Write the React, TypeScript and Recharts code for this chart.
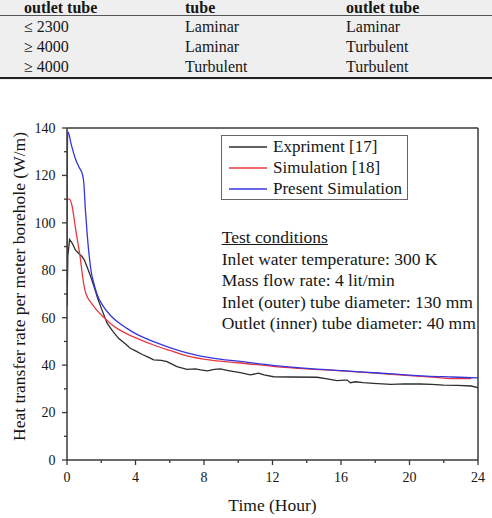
import { LineChart, Line, XAxis, YAxis, Legend, ReferenceLine } from "recharts";

// table above the chart
const TABLE_HEAD = ["outlet tube", "tube", "outlet tube"];
const TABLE_ROWS = [
  ["≤ 2300", "Laminar", "Laminar"],
  ["≥ 4000", "Laminar", "Turbulent"],
  ["≥ 4000", "Turbulent", "Turbulent"],
];

// axis ticks (majors labelled, minors unlabelled)
const X_TICKS = [0, 2, 4, 6, 8, 10, 12, 14, 16, 18, 20, 22, 24];
const Y_TICKS = [0, 10, 20, 30, 40, 50, 60, 70, 80, 90, 100, 110, 120, 130, 140];

// Expriment [17]
const EXP_TIME = [
  0, 0.05, 0.15, 0.3, 0.49, 0.7, 0.88, 1.0, 1.17, 1.35, 1.55, 1.8, 2.04, 2.34, 2.7, 3.01, 3.4, 3.7, 4.0,
  4.4, 4.8, 5.06, 5.5, 5.84, 6.42, 7.0, 7.5, 7.8, 8.2, 8.6, 8.95, 9.5, 10.12, 10.7, 11.19, 11.5, 12.07,
  13.0, 14.6, 15.2, 15.77, 16.2, 16.36, 16.55, 16.84, 17.3, 17.9, 18.9, 19.7, 20.6, 21.3, 22.0, 22.8, 23.6, 24,
];
const EXP_HEAT = [
  65, 86, 93, 91.5, 88.6, 87, 85.8, 84.5, 81.5, 78, 73.8, 68, 63.3, 57.7, 54, 51.3, 49, 47.1, 46,
  44.5, 43.2, 42.2, 42, 41.5, 39.4, 38.2, 38.4, 38, 37.6, 38.2, 38.4, 37.6, 36.8, 35.9, 36.6, 35.9, 35.1,
  35.0, 34.9, 34.2, 33.5, 33.7, 33.7, 32.6, 33.0, 32.6, 32.3, 31.9, 32.1, 32.05, 31.9, 31.6, 31.5, 31.2, 30.5,
];

// Simulation [18]
const SIM_TIME = [
  0, 0.15, 0.3, 0.49, 0.6, 0.78, 0.9, 1.05, 1.2, 1.36, 1.7, 2.14, 2.5, 2.92, 3.5, 4.09, 5.06, 6.0, 7.0,
  8.5, 10.1, 12.0, 14.0, 16.0, 18.0, 20.0, 21.5, 22.5, 23.6,
];
const SIM_HEAT = [
  110, 110, 107, 98, 93, 85, 78, 71.5, 68.5, 66.8, 63.5, 60.2, 57.8, 55.5, 53.2, 51.3, 48.5, 46.2, 43.9,
  42.0, 40.9, 39.5, 38.4, 37.6, 36.6, 35.6, 34.8, 34.3, 34.3,
];

// Present Simulation
const PRES_TIME = [
  0, 0.02, 0.05, 0.25, 0.49, 0.7, 0.9, 0.98, 1.07, 1.17, 1.27, 1.4, 1.55, 1.75, 2.1, 2.6, 3.0, 3.5, 4.0,
  4.6, 5.1, 6.0, 7.0, 8.5, 10.1, 12.0, 14.0, 16.0, 17.1, 19.0, 21.0, 22.5, 24,
];
const PRES_HEAT = [
  65, 130, 138.5, 133, 127, 123.5, 120.5, 117, 106, 96, 88, 80, 75, 70, 65, 60.5, 58, 55.5, 53.3,
  51.3, 49.8, 47.4, 45.2, 43.0, 41.6, 39.9, 38.6, 37.7, 37.2, 36.3, 35.4, 35.0, 34.6,
];

const SERIF = "'Liberation Serif', 'Times New Roman', serif";
const AXIS = "#3a3a3a";
const INK = "#161616";

const toPoints = (ts: number[], vs: number[]) => ts.map((t, i) => ({ t, v: vs[i] }));

const SERIES = [
  { name: "Expriment [17]", color: "#2e2e2e", curve: "linear", data: toPoints(EXP_TIME, EXP_HEAT) },
  { name: "Simulation [18]", color: "#e8383f", curve: "monotone", data: toPoints(SIM_TIME, SIM_HEAT) },
  { name: "Present Simulation", color: "#3535e0", curve: "monotone", data: toPoints(PRES_TIME, PRES_HEAT) },
];

const CONDITIONS = [
  "Inlet water temperature: 300 K",
  "Mass flow rate: 4 lit/min",
  "Inlet (outer) tube diameter: 130 mm",
  "Outlet (inner) tube diameter: 40 mm",
];

function XTick(props: any) {
  const { x, y, payload } = props;
  const major = payload.value % 4 === 0;
  return (
    <g>
      <line x1={x} x2={x} y1={y} y2={y + (major ? 5 : 3)} stroke={AXIS} strokeWidth={1.3} />
      {major && (
        <text x={x} y={y + 22.3} textAnchor="middle" style={{ fontFamily: SERIF, fontSize: 14 }} fill={INK}>
          {payload.value}
        </text>
      )}
    </g>
  );
}

function YTick(props: any) {
  const { x, y, payload } = props;
  const major = payload.value % 20 === 0;
  return (
    <g>
      <line x1={x} x2={x - (major ? 5 : 3)} y1={y} y2={y} stroke={AXIS} strokeWidth={1.3} />
      {major && (
        <text x={x - 11.5} y={y} dy="0.35em" textAnchor="end" style={{ fontFamily: SERIF, fontSize: 14 }} fill={INK}>
          {payload.value}
        </text>
      )}
    </g>
  );
}

// legend keeps the series order of the figure
function LegendBox() {
  return (
    <div style={{ border: "1px solid #666", background: "#fff", fontFamily: SERIF, fontSize: 17, color: INK }}>
      {SERIES.map((s) => (
        <div key={s.name} style={{ display: "flex", alignItems: "center", height: 21, paddingLeft: 7, whiteSpace: "nowrap" }}>
          <svg width={38} height={4} style={{ marginRight: 6, flex: "none" }}>
            <line x1={0} x2={38} y1={2} y2={2} stroke={s.color} strokeWidth={1.3} />
          </svg>
          {s.name}
        </div>
      ))}
    </div>
  );
}

function Table() {
  const cols = [24, 185, 346];
  return (
    <div style={{ position: "absolute", left: 0, top: 0, width: 492, height: 80, background: "#efefef", fontFamily: SERIF, fontSize: 16, color: INK }}>
      {TABLE_HEAD.map((h, i) => (
        <div key={"h" + i} style={{ position: "absolute", left: cols[i], top: 0, lineHeight: "15px", fontWeight: "bold", whiteSpace: "nowrap" }}>{h}</div>
      ))}
      <div style={{ position: "absolute", left: 0, top: 15, width: 492, borderTop: "1px solid #555" }} />
      {TABLE_ROWS.map((row, r) =>
        row.map((cell, c) => (
          <div key={r + "-" + c} style={{ position: "absolute", left: cols[c], top: 18 + r * 20, whiteSpace: "nowrap" }}>{cell}</div>
        ))
      )}
      <div style={{ position: "absolute", left: 0, top: 77, width: 492, borderTop: "2.5px solid #222" }} />
    </div>
  );
}

export default function App() {
  return (
    <div style={{ position: "absolute", left: 0, top: 0, width: 492, height: 518, background: "#fff", overflow: "hidden" }}>
      <Table />
      <div style={{ position: "absolute", left: 0, top: 0 }}>
        <LineChart width={492} height={518} margin={{ top: 128, right: 14, bottom: 0, left: 0 }}>
          <XAxis
            dataKey="t"
            type="number"
            domain={[0, 24]}
            ticks={X_TICKS}
            interval={0}
            allowDataOverflow
            height={58}
            tickSize={0}
            tickMargin={0}
            tickLine={false}
            axisLine={{ stroke: AXIS, strokeWidth: 1.5 }}
            tick={(p: any) => <XTick {...p} />}
            label={(p: any) => {
              const vb = p.viewBox;
              return (
                <text x={vb.x + vb.width / 2} y={vb.y + 51} textAnchor="middle" style={{ fontFamily: SERIF, fontSize: 17.5 }} fill={INK}>
                  Time (Hour)
                </text>
              );
            }}
          />
          <YAxis
            type="number"
            domain={[0, 140]}
            ticks={Y_TICKS}
            interval={0}
            allowDataOverflow
            width={67}
            tickSize={0}
            tickMargin={0}
            tickLine={false}
            axisLine={{ stroke: AXIS, strokeWidth: 1.5 }}
            tick={(p: any) => <YTick {...p} />}
            label={(p: any) => {
              const vb = p.viewBox;
              const cx = vb.x + 25;
              const cy = vb.y + vb.height / 2 - 7.5;
              return (
                <text x={cx} y={cy} transform={`rotate(-90 ${cx} ${cy})`} textAnchor="middle" style={{ fontFamily: SERIF, fontSize: 17.5 }} fill={INK}>
                  Heat transfer rate per meter borehole (W/m)
                </text>
              );
            }}
          />
          <ReferenceLine y={140} stroke={AXIS} strokeWidth={1.5} />
          <ReferenceLine x={24} stroke={AXIS} strokeWidth={1.5} />
          {SERIES.map((s) => (
            <Line
              key={s.name}
              data={s.data}
              dataKey="v"
              name={s.name}
              type={s.curve as any}
              stroke={s.color}
              strokeWidth={1.3}
              dot={false}
              isAnimationActive={false}
            />
          ))}
          <Legend
            layout="vertical"
            align="center"
            verticalAlign="middle"
            content={() => <LegendBox />}
            wrapperStyle={{ left: 221, top: 135, width: 187 }}
          />
        </LineChart>
        <div style={{ position: "absolute", left: 221.7, top: 227.4, fontFamily: SERIF, fontSize: 17.5, lineHeight: "21.5px", color: INK, whiteSpace: "nowrap" }}>
          <div style={{ textDecoration: "underline" }}>Test conditions</div>
          {CONDITIONS.map((c) => (
            <div key={c}>{c}</div>
          ))}
        </div>
      </div>
    </div>
  );
}
